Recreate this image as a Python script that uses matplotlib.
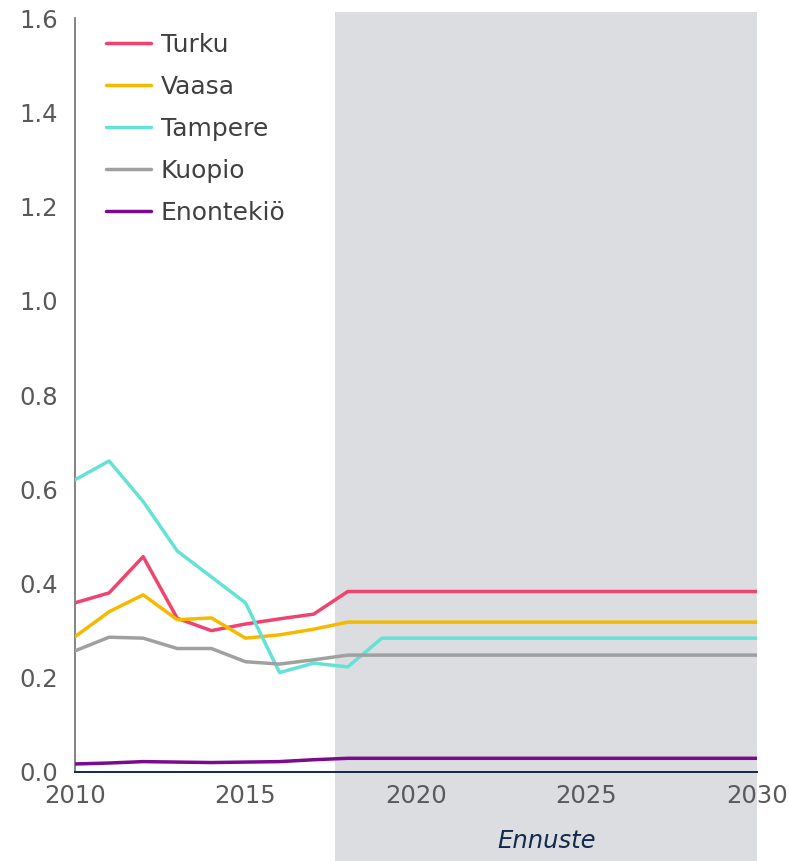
import matplotlib
matplotlib.use("Agg")
import matplotlib.pyplot as plt
from matplotlib.patches import Rectangle
import matplotlib.transforms as mtransforms

years = list(range(2010, 2031))

turku = [0.359, 0.380, 0.457, 0.326, 0.300, 0.314, 0.325, 0.335] + [0.383] * 13
vaasa = [0.287, 0.340, 0.376, 0.323, 0.327, 0.284, 0.291, 0.303] + [0.318] * 13
tampere = [0.620, 0.660, 0.574, 0.469, 0.414, 0.359, 0.211, 0.231, 0.223] + [0.284] * 12
kuopio = [0.257, 0.286, 0.284, 0.262, 0.262, 0.234, 0.229, 0.238] + [0.248] * 13
enontekio = [0.017, 0.019, 0.022, 0.021, 0.020, 0.021, 0.022, 0.026] + [0.029] * 13

series_names = ["Turku", "Vaasa", "Tampere", "Kuopio", "Enontekiö"]
series_values = [turku, vaasa, tampere, kuopio, enontekio]
series_colors = ["#F0436E", "#F5BA00", "#64E2D6", "#A0A0A0", "#7A0A8E"]

forecast_start = 2017.62
forecast_end = 2030
y_ticks = [0.0, 0.2, 0.4, 0.6, 0.8, 1.0, 1.2, 1.4, 1.6]
x_ticks = [2010, 2015, 2020, 2025, 2030]

TEXT_GRAY = "#595959"
NAVY = "#14284B"

fig = plt.figure(figsize=(7.89, 8.61), dpi=100)
ax = fig.add_axes([0.095, 0.1034, 0.8644, 0.8756])
ax.set_zorder(1)

# forecast shading, runs from above the axes down to the bottom of the figure
trans = mtransforms.blended_transform_factory(ax.transData, fig.transFigure)
shade = Rectangle(
    (forecast_start, 0.0),
    forecast_end - forecast_start,
    1 - 12 / 861,
    transform=trans,
    facecolor="#DCDDE0",
    edgecolor="none",
    zorder=-1,
    clip_on=False,
)
fig.patches.append(shade)
ax.patch.set_alpha(0)

for name, vals, color in zip(series_names, series_values, series_colors):
    ax.plot(years, vals, color=color, linewidth=2.5, label=name, solid_capstyle="round", zorder=3)

ax.set_xlim(2010, 2030)
ax.set_ylim(0, 1.6)
ax.set_yticks(y_ticks)
ax.set_yticklabels([f"{v:.1f}" for v in y_ticks])
ax.set_xticks(x_ticks)
ax.tick_params(axis="both", length=0, labelsize=17.5, labelcolor=TEXT_GRAY)
ax.tick_params(axis="x", pad=9)
ax.tick_params(axis="y", pad=12)

for side in ["top", "right"]:
    ax.spines[side].set_visible(False)
ax.spines["left"].set_color("#6E6E6E")
ax.spines["left"].set_linewidth(1.2)
ax.spines["bottom"].set_color(NAVY)
ax.spines["bottom"].set_linewidth(1.4)

ax.legend(
    loc="upper left",
    bbox_to_anchor=(0.012, 1.01),
    frameon=False,
    fontsize=18,
    labelcolor="#404040",
    handlelength=1.8,
    handletextpad=0.4,
    labelspacing=0.72,
)

fig.text(
    (335 + 758) / 2 / 789,
    1 - 841 / 861,
    "Ennuste",
    ha="center",
    va="center",
    fontsize=17.5,
    style="italic",
    color=NAVY,
)

fig.savefig("out.png", dpi=100)
